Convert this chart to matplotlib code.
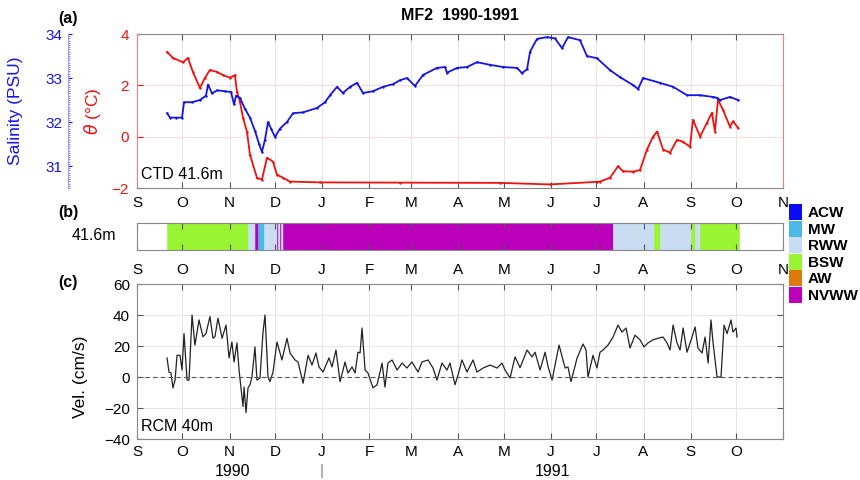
import numpy as np
import pandas as pd
import matplotlib
matplotlib.use("Agg")
import matplotlib.pyplot as plt
import matplotlib.dates as mdates
from matplotlib.patches import Patch
from matplotlib.ticker import MultipleLocator

plt.rcParams['font.family'] = ['Liberation Sans', 'DejaVu Sans']
plt.rcParams['mathtext.fontset'] = 'dejavusans'

t0 = pd.Timestamp('1990-09-01')
t1 = pd.Timestamp('1991-11-01')

# CTD 41.6 m, days since 1 Sep 1990
sal_day = [19.8, 21.8, 25.7, 29.7, 31.0, 36.3, 41.5, 45.5, 46.8, 49.5, 52.8, 58.0,
           62.0, 64.0, 65.3, 67.9, 71.2, 74.5, 77.8, 80.5, 82.4, 84.4, 86.4, 88.4,
           91.0, 94.3, 98.9, 102.9, 109.5, 118.7, 124.0, 127.3, 131.9, 135.8, 140.5,
           145.1, 149.0, 155.6, 162.2, 168.8, 173.4, 178.0, 183.3, 188.6, 197.8,
           203.1, 204.4, 211.0, 217.6, 224.2, 232.8, 241.4, 250.6, 253.9, 257.2,
           259.2, 263.8, 270.4, 275.6, 280.3, 284.2, 292.1, 296.7, 303.3, 311.9,
           318.5, 327.1, 330.4, 333.7, 344.9, 353.5, 362.7, 371.3, 379.8, 382.5,
           384.5, 391.0, 396.3]
sal = [32.2, 32.1, 32.1, 32.1, 32.45, 32.45, 32.5, 32.6, 32.85, 32.65, 32.72, 32.7,
       32.68, 32.4, 32.6, 32.55, 32.3, 32.1, 31.8, 31.5, 31.32, 31.6, 32.0, 31.85,
       31.66, 31.85, 32.0, 32.2, 32.22, 32.32, 32.45, 32.61, 32.8, 32.66, 32.8,
       32.89, 32.66, 32.7, 32.8, 32.86, 32.95, 33.0, 32.82, 33.07, 33.23,
       33.25, 33.12, 33.23, 33.25, 33.36, 33.3, 33.25, 33.23, 33.11, 33.2,
       33.6, 33.89, 33.93, 33.9, 33.68, 33.93, 33.86, 33.5, 33.45, 33.18,
       33.02, 32.84, 32.75, 33.0, 32.89, 32.8, 32.61, 32.61, 32.57, 32.55,
       32.5, 32.57, 32.5]

theta_day = [19.8, 23.7, 30.3, 33.6, 36.9, 41.5, 44.8, 48.1, 52.8, 56.7, 61.3, 64.6,
             65.9, 67.9, 69.9, 72.5, 74.5, 79.1, 82.4, 85.7, 89.7, 92.3, 96.3, 100.9,
             120.7, 173.4, 239.4, 272.3, 303.3, 305.3, 311.9, 317.2, 320.5, 327.1,
             331.7, 336.3, 340.3, 342.9, 346.9, 351.5, 356.1, 360.1, 364.7, 366.6,
             371.3, 375.8, 379.1, 381.1, 383.1, 386.4, 391.0, 393.0, 396.3]
theta = [3.3, 3.07, 2.9, 3.07, 2.52, 1.9, 2.29, 2.6, 2.52, 2.4, 2.3, 2.4,
         1.75, 1.36, 0.74, 0.2, -0.7, -1.6, -1.67, -0.82, -0.97, -1.48, -1.6, -1.75,
         -1.78, -1.79, -1.8, -1.86, -1.76, -1.75, -1.6, -1.15, -1.35, -1.36,
         -1.3, -0.5, 0.0, 0.2, -0.5, -0.62, -0.12, -0.2, -0.39, 0.66,
         0.0, 0.54, 0.93, 0.2, 1.44, 1.05, 0.39, 0.6, 0.35]

# RCM 40 m velocity
vel_day = [19.8, 21.1, 22.4, 23.7, 25.1, 26.4, 28.4, 29.7, 31.0, 33.0, 34.3, 36.3,
           38.2, 40.9, 43.5, 45.5, 48.1, 50.1, 51.4, 53.4, 56.1, 58.7, 60.7, 62.6,
           64.0, 65.9, 67.3, 69.9, 70.6, 71.9, 73.2, 74.5, 75.8, 77.8, 79.1, 81.1,
           83.1, 84.4, 86.4, 87.7, 89.7, 92.3, 95.6, 98.9, 100.9, 104.2, 106.2,
           109.5, 112.8, 115.4, 118.0, 120.0, 122.7, 126.6, 128.6, 131.2, 133.9,
           137.2, 139.1, 141.8, 143.8, 145.7, 147.1, 148.4, 150.4, 152.3, 155.6,
           158.3, 161.6, 163.5, 165.5, 168.2, 171.5, 174.8, 178.0, 181.3, 185.3,
           187.9, 191.9, 195.2, 197.8, 201.1, 204.4, 206.4, 209.7, 211.7, 214.3,
           217.6, 221.6, 224.2, 228.2, 232.8, 237.4, 240.7, 242.7, 246.0, 249.3,
           252.6, 257.2, 260.5, 262.5, 265.8, 269.1, 271.1, 273.7, 278.3, 282.3,
           284.2, 286.2, 290.2, 294.1, 296.1, 297.4, 300.7, 303.3, 305.3, 307.3,
           310.6, 313.9, 317.2, 319.8, 322.5, 325.1, 328.4, 331.7, 334.3, 337.0,
           340.3, 343.6, 346.9, 349.5, 351.5, 353.5, 356.1, 358.1, 360.1, 362.7,
           366.0, 368.0, 369.9, 372.6, 374.6, 376.6, 378.5, 379.8, 382.5, 385.1,
           387.1, 389.1, 391.7, 393.0, 395.0, 395.7]
vel = [12.3, 3.2, 2.6, -7, -2, 14, 14, 4.5, 28, -2, -2, 40,
       20.6, 36.8, 26, 28, 39, 25, 26, 38, 25, 33.5, 12.3, 22.6,
       9.7, 22, 4.5, -19, -6.5, -23, -7, -5, 0, 19.4, -2, -0.6,
       29, 40, 0, -3, 3.2, 22.6, 11, 25, 15.5, 11, 9.7,
       -4, 14, 7.7, 15.5, 6.5, 3.2, 12.3, 6.5, 17.4, -3,
       9.7, 2.6, 6.5, 2.6, 16, 15.5, 31.6, 4.5, 2.6, -7,
       -5, 9, -6.5, 9, 11, 4.5, 9, 5.8, 9.7, 3.2,
       9.7, 11, 5.8, -2, 9, 4.5, 9, -5, 1.3, 11,
       3.2, 11, 3.2, 5.8, 7.7, 5.8, 9, 4.5, -0.6, 13,
       6, 17.4, 13, 16, 4.5, 16, 6.5, -2, 20.6, 5.8,
       6.5, -3, 12.3, 21.3, 17.4, 0, 14, 5.8, 16, 17.4,
       20.6, 25.8, 33.5, 29, 31.6, 18.7, 27, 24, 19.4, 22,
       24, 25, 25.8, 22, 17.4, 33.5, 22, 17.4, 31.6, 16,
       25.8, 32.3, 18.7, 15.5, 25.8, 9, 36.8, 22.6, 0, 0,
       33.5, 28, 36.8, 29, 31.6, 25.8]

# water mass classes
mass_names = ['ACW', 'MW', 'RWW', 'BSW', 'AW', 'NVWW']
mass_colors = ['#0a0af5', '#4cb8e8', '#c8dcf2', '#99f533', '#dd7a0a', '#bb00bb']
seg_start = ['1990-09-21', '1990-11-13', '1990-11-18', '1990-11-20', '1990-11-24',
             '1990-12-02', '1990-12-03', '1990-12-04', '1990-12-05', '1990-12-06',
             '1991-07-12', '1991-08-08', '1991-08-12', '1991-09-01', '1991-09-04',
             '1991-09-07']
seg_end = ['1990-11-13', '1990-11-18', '1990-11-20', '1990-11-24', '1990-12-02',
           '1990-12-03', '1990-12-04', '1990-12-05', '1990-12-06', '1991-07-12',
           '1991-08-08', '1991-08-12', '1991-09-01', '1991-09-04', '1991-09-07',
           '1991-10-03']
seg_mass = ['BSW', 'RWW', 'NVWW', 'MW', 'RWW',
            'NVWW', 'RWW', 'NVWW', 'RWW', 'NVWW',
            'RWW', 'BSW', 'RWW', 'BSW', 'RWW',
            'BSW']

month_letters = ['S', 'O', 'N', 'D', 'J', 'F', 'M', 'A', 'M', 'J', 'J', 'A', 'S', 'O', 'N']


def to_dates(days):
    return t0 + pd.to_timedelta(np.array(days), unit='D')


red = '#ee1111'
blue = '#1414e6'
gray = '#888888'
months = pd.date_range(t0, t1, freq='MS')

fig = plt.figure(figsize=(8.6, 4.8), dpi=100)
ax_a = fig.add_axes([0.1593, 0.6083, 0.7512, 0.3208])
ax_b = fig.add_axes([0.1593, 0.479, 0.7512, 0.0563])
ax_c = fig.add_axes([0.1593, 0.0854, 0.7512, 0.3229])

for ax in (ax_a, ax_b, ax_c):
    ax.set_xlim(t0, t1)
    ax.set_xticks(months)
    ax.set_xticklabels(month_letters)
    ax.tick_params(axis='x', direction='in', top=True, length=4, color='#555555',
                   labelsize=11)
    for s in ax.spines.values():
        s.set_color(gray)
        s.set_linewidth(0.8)

# (a) temperature and salinity
ax_a.plot(to_dates(theta_day), theta, color=red, lw=1.3, marker='.', ms=1.5)
ax_a.set_ylim(-2, 4)
ax_a.set_yticks([-2, 0, 2, 4])
ax_a.tick_params(axis='y', direction='in', right=True, length=4, color=red,
                 labelcolor=red, labelsize=11, pad=6)
ax_a.tick_params(axis='x', pad=6)
ax_a.spines['left'].set_color('#f08080')
ax_a.spines['right'].set_color('#f08080')
ax_a.xaxis.grid(True, color='#e2e2e2', lw=0.6)
ax_a.yaxis.grid(True, color='#fad6d6', lw=0.6)
ax_a.set_axisbelow(True)
ax_a.set_ylabel(r'$\theta$ (°C)', color=red, fontsize=12.5)
ax_a.yaxis.set_label_coords(-0.052, 0.5)
ax_a.text(0.006, 0.04, 'CTD 41.6m', transform=ax_a.transAxes, fontsize=11.5,
          ha='left', va='bottom')

ax_s = ax_a.twinx()
ax_s.plot(to_dates(sal_day), sal, color=blue, lw=1.3, marker='.', ms=1.5)
ax_s.set_ylim(30.5, 34)
ax_s.set_yticks([31, 32, 33, 34])
ax_s.yaxis.set_minor_locator(MultipleLocator(0.05))
ax_s.yaxis.set_ticks_position('left')
ax_s.yaxis.set_label_position('left')
for side in ('right', 'top', 'bottom'):
    ax_s.spines[side].set_visible(False)
ax_s.spines['left'].set_visible(True)
ax_s.spines['left'].set_position(('axes', -0.107))
ax_s.spines['left'].set_color('#9a9af0')
ax_s.tick_params(axis='y', which='major', direction='in', length=3, color=blue,
                 labelcolor=blue, labelsize=11, pad=4)
ax_s.tick_params(axis='y', which='minor', direction='in', length=1.5, width=0.6,
                 color='#7070f0')
ax_s.set_ylabel('Salinity (PSU)', color=blue, fontsize=12.5)
ax_s.yaxis.set_label_coords(-0.177, 0.5)

# (b) water mass bar
lookup = dict(zip(mass_names, mass_colors))
for a, b, m in zip(seg_start, seg_end, seg_mass):
    left = mdates.date2num(pd.Timestamp(a))
    width = mdates.date2num(pd.Timestamp(b)) - left
    ax_b.barh(0, width, left=left, height=1, color=lookup[m],
              edgecolor=lookup[m], lw=0.4)
ax_b.set_ylim(-0.5, 0.5)
ax_b.set_yticks([])
ax_b.tick_params(axis='x', pad=9)
fig.text(116 / 860, 1 - 236 / 480, '41.6m', ha='right', va='center', fontsize=11.5)

handles = [Patch(facecolor=c, edgecolor='none') for c in mass_colors]
leg = fig.legend(handles, mass_names, loc='upper left', bbox_to_anchor=(0.918, 0.575),
                 frameon=False, handlelength=0.85, handleheight=1.25, labelspacing=0.02,
                 handletextpad=0.35, borderpad=0, borderaxespad=0,
                 prop={'weight': 'bold', 'size': 11})

# (c) velocity
ax_c.plot(to_dates(vel_day), vel, color='#222222', lw=0.9)
ax_c.axhline(0, color='#555555', ls='--', lw=0.8, dashes=(4, 3))
ax_c.set_ylim(-40, 60)
ax_c.set_yticks([-40, -20, 0, 20, 40, 60])
ax_c.set_xticklabels(month_letters[:-1] + [''])
ax_c.tick_params(axis='y', direction='in', right=True, length=4, color='#555555',
                 labelsize=11, pad=5)
ax_c.tick_params(axis='x', pad=4.5)
ax_c.grid(True, color='#e2e2e2', lw=0.6)
ax_c.set_axisbelow(True)
ax_c.set_ylabel('Vel. (cm/s)', fontsize=12.5)
ax_c.yaxis.set_label_coords(-0.076, 0.4)
ax_c.text(0.006, 0.03, 'RCM 40m', transform=ax_c.transAxes, fontsize=11.5,
          ha='left', va='bottom')

fig.text(233 / 860, 1 - 471 / 480, '1990', ha='center', va='center', fontsize=11.5)
fig.text(322 / 860, 1 - 471 / 480, '|', ha='center', va='center', fontsize=11,
         color='#888888')
fig.text(553 / 860, 1 - 471 / 480, '1991', ha='center', va='center', fontsize=11.5)

fig.text(0.5349, 1 - 15 / 480, 'MF2  1990-1991', ha='center', va='center',
         fontsize=11.5, fontweight='bold')
fig.text(68 / 860, 1 - 18 / 480, '(a)', ha='center', va='center', fontsize=11.5,
         fontweight='bold')
fig.text(68 / 860, 1 - 213 / 480, '(b)', ha='center', va='center', fontsize=11.5,
         fontweight='bold')
fig.text(68 / 860, 1 - 282 / 480, '(c)', ha='center', va='center', fontsize=11.5,
         fontweight='bold')

fig.savefig('out.png', dpi=100)
